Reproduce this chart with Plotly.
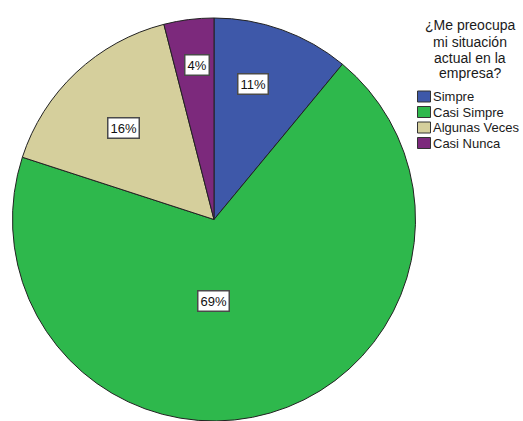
import plotly.graph_objects as go

# Survey responses, share of respondents (%)
categories = ["Simpre", "Casi Simpre", "Algunas Veces", "Casi Nunca"]
percent = [11, 69, 16, 4]
colors = ["#3E58A9", "#2EB84C", "#D5CF9C", "#7C297C"]
legend_title_lines = ["¿Me preocupa", "mi situación", "actual en la", "empresa?"]

W, H = 523, 421
FONT = "Liberation Sans, Arial, sans-serif"

# label box centres (pixels) for each slice
label_px = [(252.5, 84), (213.5, 301), (123, 128), (197, 65.5)]

fig = go.Figure(
    go.Pie(
        labels=categories,
        values=percent,
        marker=dict(colors=colors, line=dict(color="#222222", width=1)),
        sort=False,
        direction="clockwise",
        rotation=0,
        textinfo="none",
        hoverinfo="label+percent",
        showlegend=False,
        domain=dict(x=[12.5 / W, 415.5 / W], y=[0, 403 / H]),
    )
)

# percentage labels in white boxes
for (px, py), p in zip(label_px, percent):
    fig.add_annotation(
        x=px / W, y=1 - py / H, xref="paper", yref="paper",
        xanchor="center", yanchor="middle",
        text=f"{p}%", showarrow=False,
        font=dict(family=FONT, size=13, color="#111111"),
        bgcolor="white", bordercolor="#4a4a4a", borderwidth=1.5, borderpad=2,
    )

# legend: centred title lines
title_cx = 470
title_rows = [25.5, 41.5, 57.5, 73]
for line, ty in zip(legend_title_lines, title_rows):
    fig.add_annotation(
        x=title_cx / W, y=1 - ty / H, xref="paper", yref="paper",
        xanchor="center", yanchor="middle", showarrow=False,
        text=line, font=dict(family=FONT, size=14, color="#1a1a1a"),
    )

# legend: swatches and category names
row_y = [96.5, 112, 127.5, 143]
for name, col, ry in zip(categories, colors, row_y):
    fig.add_shape(
        type="rect", xref="paper", yref="paper",
        x0=417.5 / W, x1=430.5 / W,
        y0=1 - (ry - 5.5) / H, y1=1 - (ry + 5.5) / H,
        fillcolor=col, line=dict(color="#333333", width=1),
    )
    fig.add_annotation(
        x=431 / W, y=1 - ry / H, xref="paper", yref="paper",
        xanchor="left", yanchor="middle", showarrow=False,
        text=name, font=dict(family=FONT, size=13, color="#1a1a1a"),
    )

fig.update_layout(
    width=W, height=H,
    margin=dict(l=0, r=0, t=0, b=0, autoexpand=False),
    paper_bgcolor="white",
    font=dict(family=FONT, color="#222"),
    showlegend=False,
)

fig.write_html("out.html")
